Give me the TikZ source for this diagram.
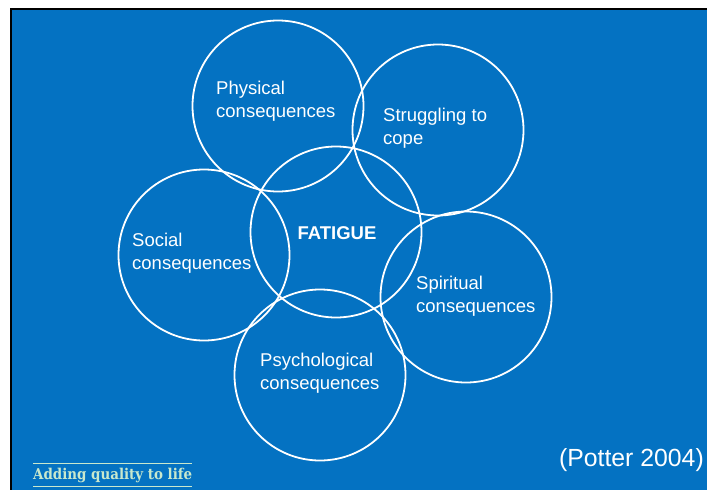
\documentclass[tikz,border=0pt]{standalone}
\usepackage{fontspec}
\setmainfont{Liberation Sans}
\newfontfamily\slabfont{DejaVu Serif Condensed}
\usetikzlibrary{positioning}

\definecolor{slideblue}{RGB}{4,114,194}
\definecolor{tagline}{RGB}{200,232,205}

\begin{document}
\begin{tikzpicture}[
  x=1pt,y=-1pt,
  ring/.style={draw=white,line width=1.8pt,circle,minimum size=171pt,inner sep=0pt},
  caption/.style={text=white,align=left,anchor=west,inner sep=0pt,
    font=\fontsize{18.5}{23}\selectfont}
]
  \useasboundingbox (0,0) rectangle (707,490);
  \fill[white] (0,0) rectangle (707,490);
  \fill[slideblue] (11,9) rectangle (707,490);
  \draw[black,line width=2pt] (11,490) -- (11,9) -- (707,9);

  % the six overlapping rings
  \node[ring] (phys) at (278,106) {};
  \node[ring] (cope) at (438,130) {};
  \node[ring] (fatigue) at (336,232) {};
  \node[ring] (social) at (204,255) {};
  \node[ring] (spirit) at (466,297) {};
  \node[ring] (psych) at (320,375) {};

  % texts inside the rings
  \node[caption] (physlbl) at (216,101) {Physical\\consequences};
  \node[caption] (copelbl) at (383,128) {Struggling to\\cope};
  \node[text=white,font=\fontsize{18.5}{22}\selectfont\bfseries] (fatiguelbl) at (337,233) {FATIGUE};
  \node[caption] (sociallbl) at (132,253) {Social\\consequences};
  \node[caption] (spiritlbl) at (416,296) {Spiritual\\consequences};
  \node[caption] (psychlbl) at (260,373) {Psychological\\consequences};

  \node[text=white,anchor=east,inner sep=0pt,font=\fontsize{24.8}{28}\selectfont] (source) at (704,460) {(Potter 2004)};

  % strap line with rules above and below
  \node[text=tagline,anchor=west,inner sep=0pt,font=\slabfont\bfseries\fontsize{14.9}{17}\selectfont] (strap) at (33,475) {Adding quality to life};
  \draw[tagline,line width=0.8pt] ([yshift=4pt]strap.north west) -- ([yshift=4pt]strap.north east);
  \draw[tagline,line width=0.8pt] ([yshift=-4pt]strap.south west) -- ([yshift=-4pt]strap.south east);
\end{tikzpicture}
\end{document}
